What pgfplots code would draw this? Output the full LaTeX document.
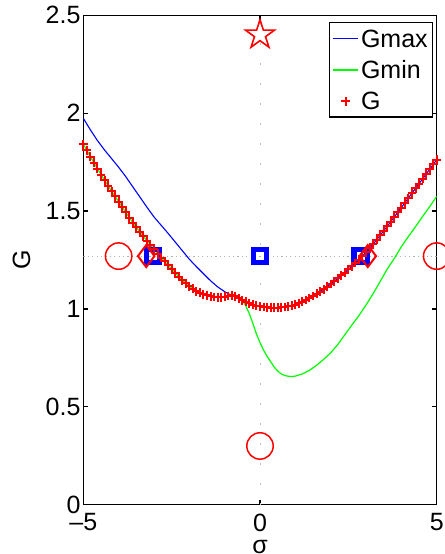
\documentclass[border=0pt]{standalone}
\usepackage{fontspec}
\setmainfont{Liberation Sans}
\usepackage{pgfplots}
\pgfplotsset{compat=1.18}
\usetikzlibrary{plotmarks}

\definecolor{mgreen}{rgb}{0,1,0}
\definecolor{mblue}{rgb}{0,0,1}
\definecolor{mred}{rgb}{1,0,0}

\pgfdeclareplotmark{fivestar}{%
  \pgfpathmoveto{\pgfpointpolar{90}{\pgfplotmarksize}}%
  \pgfpathlineto{\pgfpointpolar{126}{0.382\pgfplotmarksize}}%
  \pgfpathlineto{\pgfpointpolar{162}{\pgfplotmarksize}}%
  \pgfpathlineto{\pgfpointpolar{198}{0.382\pgfplotmarksize}}%
  \pgfpathlineto{\pgfpointpolar{234}{\pgfplotmarksize}}%
  \pgfpathlineto{\pgfpointpolar{270}{0.382\pgfplotmarksize}}%
  \pgfpathlineto{\pgfpointpolar{306}{\pgfplotmarksize}}%
  \pgfpathlineto{\pgfpointpolar{342}{0.382\pgfplotmarksize}}%
  \pgfpathlineto{\pgfpointpolar{18}{\pgfplotmarksize}}%
  \pgfpathlineto{\pgfpointpolar{54}{0.382\pgfplotmarksize}}%
  \pgfpathclose
  \pgfusepathqstroke
}

\pgfplotstableread{
x y
-5.0 1.842
-4.9 1.810
-4.8 1.778
-4.7 1.747
-4.6 1.716
-4.5 1.686
-4.4 1.658
-4.3 1.630
-4.2 1.602
-4.1 1.575
-4.0 1.548
-3.9 1.521
-3.8 1.494
-3.7 1.467
-3.6 1.441
-3.5 1.416
-3.4 1.393
-3.3 1.371
-3.2 1.349
-3.1 1.327
-3.0 1.305
-2.9 1.283
-2.8 1.262
-2.7 1.243
-2.6 1.224
-2.5 1.204
-2.4 1.184
-2.3 1.164
-2.2 1.146
-2.1 1.130
-2.0 1.116
-1.9 1.103
-1.8 1.091
-1.7 1.082
-1.6 1.075
-1.5 1.069
-1.4 1.064
-1.3 1.061
-1.2 1.060
-1.1 1.060
-1.0 1.062
-0.9 1.066
-0.8 1.069
-0.7 1.065
-0.6 1.055
-0.5 1.045
-0.4 1.036
-0.3 1.028
-0.2 1.022
-0.1 1.017
0.0 1.013
0.1 1.010
0.2 1.008
0.3 1.007
0.4 1.006
0.5 1.007
0.6 1.008
0.7 1.010
0.8 1.013
0.9 1.017
1.0 1.022
1.1 1.029
1.2 1.037
1.3 1.046
1.4 1.056
1.5 1.066
1.6 1.077
1.7 1.088
1.8 1.100
1.9 1.113
2.0 1.127
2.1 1.141
2.2 1.156
2.3 1.171
2.4 1.186
2.5 1.202
2.6 1.218
2.7 1.235
2.8 1.252
2.9 1.270
3.0 1.290
3.1 1.310
3.2 1.331
3.3 1.353
3.4 1.376
3.5 1.399
3.6 1.422
3.7 1.446
3.8 1.470
3.9 1.494
4.0 1.518
4.1 1.542
4.2 1.567
4.3 1.591
4.4 1.616
4.5 1.640
4.6 1.664
4.7 1.689
4.8 1.713
4.9 1.738
5.0 1.762
}\Gtable

\pgfplotstableread{
x y
-5.0 1.974
-4.8 1.915
-4.6 1.860
-4.4 1.812
-4.2 1.768
-4.0 1.724
-3.8 1.676
-3.6 1.624
-3.4 1.572
-3.2 1.520
-3.0 1.470
-2.8 1.428
-2.6 1.386
-2.4 1.342
-2.2 1.298
-2.0 1.254
-1.8 1.216
-1.6 1.180
-1.4 1.144
-1.2 1.113
-1.0 1.088
-0.8 1.069
-0.7 1.065
-0.6 1.055
-0.5 1.045
-0.4 1.036
-0.3 1.028
-0.2 1.022
-0.1 1.017
0.0 1.013
0.2 1.008
0.4 1.006
0.6 1.008
0.8 1.013
1.0 1.022
1.2 1.037
1.4 1.056
1.6 1.077
1.8 1.100
2.0 1.127
2.2 1.156
2.4 1.186
2.6 1.218
2.8 1.252
3.0 1.290
3.2 1.331
3.4 1.376
3.6 1.422
3.8 1.470
4.0 1.518
4.2 1.567
4.4 1.616
4.6 1.664
4.8 1.713
5.0 1.762
}\Gmaxtable

\pgfplotstableread{
x y
-5.0 1.842
-4.8 1.778
-4.6 1.716
-4.4 1.658
-4.2 1.602
-4.0 1.548
-3.8 1.494
-3.6 1.441
-3.4 1.393
-3.2 1.349
-3.0 1.305
-2.8 1.262
-2.6 1.224
-2.4 1.184
-2.2 1.146
-2.0 1.116
-1.8 1.091
-1.6 1.075
-1.4 1.064
-1.2 1.060
-1.0 1.062
-0.9 1.066
-0.8 1.069
-0.7 1.065
-0.6 1.055
-0.5 1.045
-0.4 1.015
-0.3 0.975
-0.2 0.925
-0.1 0.872
0.0 0.828
0.1 0.790
0.2 0.758
0.3 0.731
0.4 0.703
0.5 0.683
0.6 0.668
0.7 0.660
0.8 0.656
0.9 0.655
1.0 0.657
1.2 0.668
1.4 0.686
1.6 0.712
1.8 0.742
2.0 0.776
2.2 0.818
2.4 0.868
2.6 0.918
2.8 0.966
3.0 1.020
3.2 1.078
3.4 1.140
3.6 1.204
3.8 1.258
4.0 1.318
4.2 1.370
4.4 1.420
4.6 1.472
4.8 1.522
5.0 1.575
}\Gmintable

\begin{document}
\begin{tikzpicture}
\begin{axis}[
  scale only axis,
  width=176.7pt, height=244.7pt,
  xmin=-5, xmax=5, ymin=0, ymax=2.5,
  xtick={-5,0,5},
  xticklabels={\textendash5,0,5},
  ytick={0,0.5,1,1.5,2,2.5},
  yticklabels={0,0.5,1,1.5,2,2.5},
  tick align=inside,
  xtick pos=both, ytick pos=both,
  major tick length=2.5pt,
  axis line style={line width=0.75pt},
  every tick/.style={black, line width=0.6pt},
  tick label style={font=\fontsize{12.5pt}{15pt}\selectfont},
  yticklabel style={inner xsep=1.2pt},
  xticklabel style={yshift=-1pt},
  label style={font=\fontsize{12.5pt}{15pt}\selectfont},
  xlabel={σ},
  ylabel={G},
  xlabel style={at={(axis description cs:0.5,-0.0864)}, anchor=center},
  ylabel style={at={(axis description cs:-0.175,0.5)}, anchor=center},
  legend style={
    at={(axis description cs:1,1)}, anchor=north east,
    xshift=-1.7pt, yshift=-3.5pt,
    draw=black, line width=0.6pt, fill=white,
    font=\fontsize{12.5pt}{15pt}\selectfont,
    inner xsep=1.5pt, inner ysep=1.7pt,
    row sep=3.1pt,
    nodes={inner xsep=1pt, inner ysep=0pt, text height=10.5pt, text depth=2pt},
    cells={anchor=west},
  },
  legend cell align=left,
  legend image code/.code={\draw[mark repeat=2,mark phase=2,#1] plot coordinates {(0pt,0pt) (6.4pt,0pt) (12.8pt,0pt)};},
]
% dotted reference lines
\addplot[forget plot, color=black!25, line width=0.5pt, dash pattern=on 0.6pt off 9.4pt] coordinates {(0,0) (0,2.5)};
\addplot[forget plot, color=black!30, line width=0.5pt, dash pattern=on 0.6pt off 1.6pt] coordinates {(-5,1.27) (5,1.27)};
% blue squares
\addplot[forget plot, only marks, mark=square, mark size=3.4pt, color=mblue, line width=2.6pt] coordinates {(-3.03,1.27) (0,1.27) (2.85,1.27)};
% curves
\addplot[color=mblue, line width=0.55pt, no marks] table {\Gmaxtable};
\addlegendentry{Gmax}
\addplot[color=mgreen, line width=0.6pt, no marks] table {\Gmintable};
\addlegendentry{Gmin}
\addplot[color=mred, only marks, mark=+, mark size=2.2pt, line width=1pt] table {\Gtable};
\addlegendentry{G}
% diamonds
\addplot[forget plot, only marks, mark=diamond, mark size=5.5pt, color=mred, line width=1pt] coordinates {(-3.22,1.27) (3.05,1.27)};
% circles
\addplot[forget plot, only marks, mark=o, mark size=6.6pt, color=mred, line width=0.75pt] coordinates {(-4.0,1.27) (5,1.27) (0,0.3)};
% star
\addplot[forget plot, only marks, mark=fivestar, mark size=7.6pt, color=mred, line width=0.8pt] coordinates {(0,2.4)};
\end{axis}
\pgfresetboundingbox
\path ([xshift=-41.65pt,yshift=-24.65pt]current axis.south west) rectangle ([xshift=3.65pt,yshift=7.65pt]current axis.north east);
\end{tikzpicture}
\end{document}
